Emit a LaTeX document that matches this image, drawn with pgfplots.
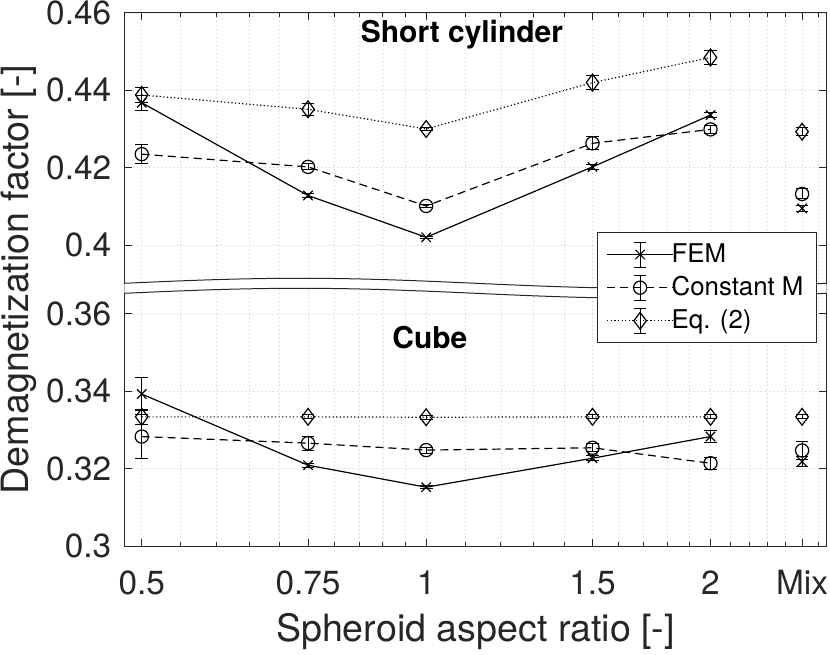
\documentclass[border=0pt]{standalone}
\usepackage{fontspec}
\setmainfont{TeX Gyre Heros}
\usepackage{pgfplots}
\usepackage{pgfplotstable}
\pgfplotsset{compat=1.18}
\definecolor{axc}{RGB}{38,38,38}
\definecolor{gridc}{RGB}{200,200,200}

% Short cylinder (real values; upper part of the broken axis)
\pgfplotstableread{
x    fem    femerr cm     cmerr  eq     eqerr
0.5  0.4368 0.0019 0.4235 0.0024 0.4388 0.0019
0.75 0.4128 0.0004 0.4202 0.0008 0.4351 0.0016
1    0.4020 0.0003 0.4101 0.0005 0.4300 0.0005
1.5  0.4202 0.0006 0.4263 0.0017 0.4420 0.0019
2    0.4336 0.0006 0.4299 0.0010 0.4485 0.0018
}\cyl
\pgfplotstableread{
x    fem    femerr cm     cmerr  eq     eqerr
2.5  0.4095 0.0008 0.4132 0.0013 0.4293 0.0010
}\cylmix
% Cube (lower part)
\pgfplotstableread{
x    fem    femerr cm     cmerr  eq     eqerr
0.5  0.3393 0.0043 0.3283 0.0056 0.3334 0.0019
0.75 0.3209 0.0005 0.3266 0.0018 0.3334 0.0005
1    0.3152 0.0004 0.3248 0.0008 0.3333 0.0005
1.5  0.3227 0.0007 0.3254 0.0010 0.3334 0.0005
2    0.3283 0.0015 0.3214 0.0015 0.3334 0.0005
}\cube
\pgfplotstableread{
x    fem    femerr cm     cmerr  eq     eqerr
2.5  0.3218 0.0013 0.3247 0.0024 0.3334 0.0005
}\cubemix

\pgfplotsset{
  femstyle/.style={black, solid, line width=0.6pt, mark=x, mark size=3.3pt, mark options={solid}},
  cmstyle/.style={black, dash pattern=on 4pt off 2.5pt, line width=0.6pt, mark=o, mark size=3.3pt, mark options={solid}},
  eqstyle/.style={black, dash pattern=on 0.6pt off 1.2pt, line width=0.6pt, mark=diamond, mark size=4.2pt, mark options={solid}},
  ebars/.style={error bars/y dir=both, error bars/y explicit,
     error bars/error bar style={solid, line width=0.5pt},
     error bars/error mark options={rotate=90, solid, mark size=3.2pt, line width=0.5pt}},
}

\begin{document}
\begin{tikzpicture}
\begin{axis}[
  name=ax,
  scale only axis, width=350.5pt, height=266.5pt,
  xmode=log, xmin=0.48, xmax=2.65,
  ymin=0.3, ymax=0.43784,
  clip=false,
  xtick={0.5,0.75,1,1.5,2,2.5},
  xticklabels={0.5,0.75,1,1.5,2,Mix},
  minor xtick={0.55,0.6,0.65,0.7,0.8,0.85,0.9,0.95,1.1,1.2,1.3,1.4,1.6,1.7,1.8,1.9,2.1,2.2,2.3,2.4,2.6},
  ytick={0.30,0.32,0.34,0.36,0.37784,0.39784,0.41784,0.43784},
  yticklabels={0.3,0.32,0.34,0.36,0.4,0.42,0.44,0.46},
  /pgf/number format/assume math mode=true,
  xmajorgrids=true, xminorgrids=true, ymajorgrids=true,
  grid style={gridc, dash pattern=on 0.5pt off 1.5pt, line width=0.4pt},
  minor grid style={gridc, dash pattern=on 0.5pt off 1.5pt, line width=0.4pt},
  tick align=inside, major tick length=3.5pt, minor tick length=1.8pt,
  every tick/.style={axc, line width=0.5pt},
  minor tick style={axc, line width=0.5pt},
  axis line style={axc, line width=0.5pt},
  xticklabel style={font=\fontsize{16.7}{20}\selectfont, text=axc, inner sep=0pt, anchor=north, yshift=-12pt},
  yticklabel style={font=\fontsize{16.7}{20}\selectfont, text=axc, inner sep=0pt, anchor=east, xshift=-6.7pt},
  xlabel={Spheroid aspect ratio [-]},
  ylabel={Demagnetization factor [-]},
  xlabel style={font=\fontsize{18.8}{22}\selectfont, text=axc, inner sep=0pt, at={(rel axis cs:0.5,-0.12570)}, anchor=north},
  ylabel style={font=\fontsize{18.8}{22}\selectfont, text=axc, inner sep=0pt, at={(rel axis cs:-0.12554,0.5)}, anchor=south},
  legend cell align=left,
  legend style={at={(0.98716,0.5891)}, anchor=north east, draw=axc, line width=0.5pt, fill=white,
     font=\fontsize{12.9}{15.5}\selectfont, inner xsep=4.5pt, inner ysep=4.5pt,
     nodes={inner xsep=2pt, inner ysep=1pt}, row sep=3.5pt, column sep=-3pt},
  legend image code/.code={
     \draw[#1,mark=none] (0pt,0pt) -- (33pt,0pt);
     \draw[#1,solid,mark=none,line width=0.5pt] (16.5pt,-6.25pt) -- (16.5pt,6.25pt)
        (13.5pt,-6.25pt) -- (19.5pt,-6.25pt) (13.5pt,6.25pt) -- (19.5pt,6.25pt);
     \draw[#1,solid] plot coordinates {(16.5pt,0pt)};
  },
]
% Short cylinder (upper part, shifted by the break)
\addplot[femstyle, ebars] table[x=x, y expr=\thisrow{fem}-0.02216, y error=femerr] {\cyl};
\addlegendentry{FEM}
\addplot[cmstyle, ebars] table[x=x, y expr=\thisrow{cm}-0.02216, y error=cmerr] {\cyl};
\addlegendentry{Constant M}
\addplot[eqstyle, ebars] table[x=x, y expr=\thisrow{eq}-0.02216, y error=eqerr] {\cyl};
\addlegendentry{Eq. (2)}
\addplot[femstyle, only marks, ebars, forget plot] table[x=x, y expr=\thisrow{fem}-0.02216, y error=femerr] {\cylmix};
\addplot[cmstyle, only marks, ebars, forget plot] table[x=x, y expr=\thisrow{cm}-0.02216, y error=cmerr] {\cylmix};
\addplot[eqstyle, only marks, ebars, forget plot] table[x=x, y expr=\thisrow{eq}-0.02216, y error=eqerr] {\cylmix};
% Cube (lower part)
\addplot[femstyle, ebars, forget plot] table[x=x, y=fem, y error=femerr] {\cube};
\addplot[cmstyle, ebars, forget plot] table[x=x, y=cm, y error=cmerr] {\cube};
\addplot[eqstyle, ebars, forget plot] table[x=x, y=eq, y error=eqerr] {\cube};
\addplot[femstyle, only marks, ebars, forget plot] table[x=x, y=fem, y error=femerr] {\cubemix};
\addplot[cmstyle, only marks, ebars, forget plot] table[x=x, y=cm, y error=cmerr] {\cubemix};
\addplot[eqstyle, only marks, ebars, forget plot] table[x=x, y=eq, y error=eqerr] {\cubemix};

% axis break
\fill[white] (rel axis cs:-0.001,0.4929) sin (rel axis cs:0.25,0.5023) cos (rel axis cs:0.5,0.4929)
   sin (rel axis cs:0.75,0.4835) cos (rel axis cs:1.001,0.4929) -- (rel axis cs:1.001,0.4741)
   sin (rel axis cs:0.75,0.4647) cos (rel axis cs:0.5,0.4741) sin (rel axis cs:0.25,0.4835)
   cos (rel axis cs:-0.001,0.4741) -- cycle;
\draw[axc, line width=0.5pt] (rel axis cs:-0.001,0.4929) sin (rel axis cs:0.25,0.5023) cos (rel axis cs:0.5,0.4929)
   sin (rel axis cs:0.75,0.4835) cos (rel axis cs:1.001,0.4929);
\draw[axc, line width=0.5pt] (rel axis cs:-0.001,0.4741) sin (rel axis cs:0.25,0.4835) cos (rel axis cs:0.5,0.4741)
   sin (rel axis cs:0.75,0.4647) cos (rel axis cs:1.001,0.4741);

\node[font=\bfseries\fontsize{15}{18}\selectfont] at (rel axis cs:0.4807,0.9587) {Short cylinder};
\node[font=\bfseries\fontsize{15}{18}\selectfont] at (rel axis cs:0.435,0.392) {Cube};
\end{axis}
\pgfresetboundingbox
\path (ax.south west) ++(-62.5pt,-54pt) rectangle ++(415pt,327pt);
\end{tikzpicture}
\end{document}
